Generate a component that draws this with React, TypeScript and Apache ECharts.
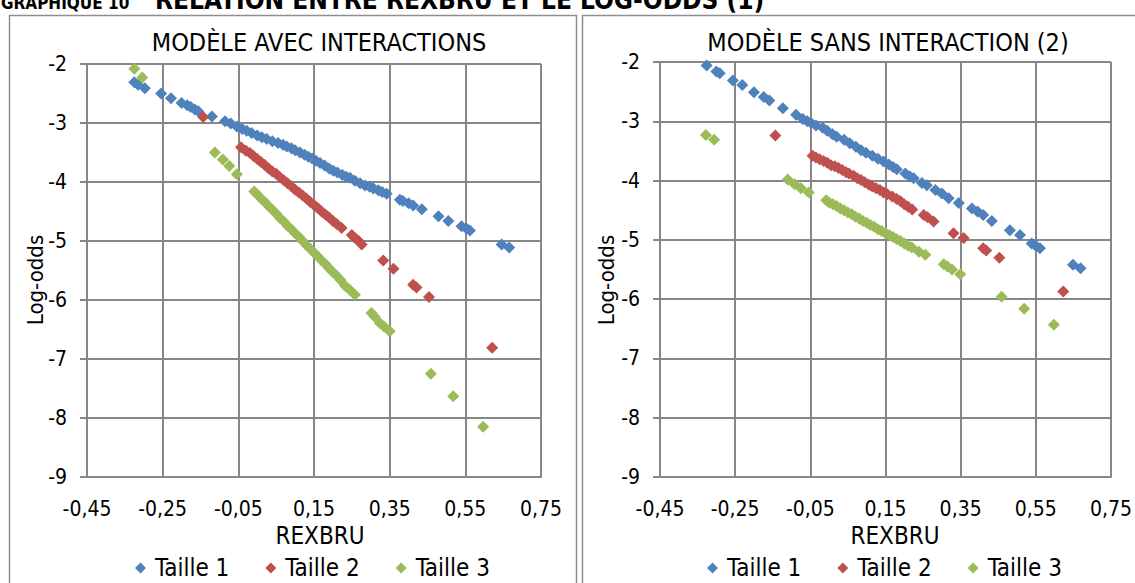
import React, { useEffect, useRef } from "react";
import * as echarts from "echarts";

const FONT = '"Liberation Sans Narrow", "Arial Narrow", "DejaVu Sans Condensed", sans-serif';

const SERIES_NAMES = ["Taille 1", "Taille 2", "Taille 3"];
const COLORS = ["#4F81BD", "#C0504D", "#9BBB59"];

const PANEL_TITLES = ["MODÈLE AVEC INTERACTIONS", "MODÈLE SANS INTERACTION (2)"];
const MAIN_TITLE_NUM = "GRAPHIQUE 10";
const MAIN_TITLE_TEXT = "RELATION ENTRE REXBRU ET LE LOG-ODDS (1)";
const X_NAME = "REXBRU";
const Y_NAME = "Log-odds";

// Modèle avec interactions : [REXBRU, log-odds]
const avecTaille1: [number, number][] = [
  [-0.325, -2.31], [-0.315, -2.35], [-0.297, -2.41], [-0.254, -2.5], [-0.228, -2.58],
  [-0.2, -2.66], [-0.185, -2.7], [-0.176, -2.73], [-0.165, -2.77], [-0.156, -2.8],
  [-0.12, -2.89], [-0.085, -2.97], [-0.07, -3.01], [-0.054, -3.06], [-0.04, -3.1],
  [-0.028, -3.13], [-0.015, -3.17], [0.0, -3.21], [0.012, -3.24], [0.025, -3.27],
  [0.04, -3.31], [0.055, -3.34], [0.068, -3.37], [0.078, -3.4], [0.09, -3.43],
  [0.1, -3.46], [0.113, -3.5], [0.125, -3.54], [0.135, -3.57], [0.145, -3.6],
  [0.155, -3.64], [0.166, -3.68], [0.178, -3.72], [0.19, -3.77], [0.201, -3.81],
  [0.212, -3.84], [0.225, -3.88], [0.235, -3.91], [0.245, -3.93], [0.258, -3.98],
  [0.272, -4.02], [0.285, -4.06], [0.297, -4.08], [0.307, -4.11], [0.32, -4.14],
  [0.33, -4.17], [0.342, -4.2], [0.377, -4.3], [0.385, -4.32], [0.4, -4.36],
  [0.412, -4.4], [0.435, -4.46], [0.479, -4.58], [0.505, -4.66], [0.54, -4.75],
  [0.553, -4.79], [0.562, -4.82], [0.646, -5.06], [0.666, -5.11],
];
const avecTaille2: [number, number][] = [
  [-0.143, -2.9], [-0.043, -3.41], [-0.03, -3.47], [-0.019, -3.51], [-0.01, -3.56],
  [0.0, -3.61], [0.01, -3.66], [0.02, -3.71], [0.03, -3.77], [0.04, -3.82],
  [0.05, -3.86], [0.06, -3.92], [0.07, -3.97], [0.08, -4.02], [0.09, -4.07],
  [0.1, -4.13], [0.11, -4.18], [0.12, -4.23], [0.13, -4.28], [0.14, -4.34],
  [0.15, -4.39], [0.16, -4.44], [0.17, -4.5], [0.18, -4.55], [0.19, -4.6],
  [0.2, -4.66], [0.21, -4.71], [0.223, -4.78], [0.25, -4.9], [0.258, -4.95],
  [0.268, -5.0], [0.276, -5.06], [0.333, -5.33], [0.36, -5.47], [0.412, -5.74],
  [0.421, -5.79], [0.454, -5.95], [0.621, -6.81],
];
const avecTaille3: [number, number][] = [
  [-0.325, -2.08], [-0.304, -2.23], [-0.112, -3.5], [-0.091, -3.62], [-0.074, -3.73],
  [-0.054, -3.87], [-0.008, -4.16], [0.0, -4.21], [0.01, -4.28], [0.02, -4.34],
  [0.03, -4.41], [0.04, -4.47], [0.05, -4.54], [0.06, -4.61], [0.07, -4.67],
  [0.08, -4.74], [0.09, -4.8], [0.1, -4.87], [0.11, -4.93], [0.12, -5.0],
  [0.13, -5.07], [0.14, -5.13], [0.15, -5.2], [0.16, -5.26], [0.17, -5.33],
  [0.18, -5.39], [0.19, -5.46], [0.2, -5.53], [0.21, -5.59], [0.22, -5.66],
  [0.232, -5.76], [0.245, -5.83], [0.258, -5.91], [0.302, -6.22], [0.31, -6.28],
  [0.324, -6.39], [0.335, -6.45], [0.35, -6.53], [0.459, -7.25], [0.518, -7.63],
  [0.597, -8.15],
];

// Modèle sans interaction
const sansTaille1: [number, number][] = [
  [-0.326, -2.06], [-0.3, -2.16], [-0.291, -2.19], [-0.256, -2.31], [-0.231, -2.39],
  [-0.2, -2.51], [-0.174, -2.59], [-0.159, -2.65], [-0.123, -2.78], [-0.088, -2.89],
  [-0.07, -2.96], [-0.058, -3.0], [-0.048, -3.03], [-0.035, -3.07], [-0.017, -3.11],
  [-0.005, -3.16], [0.009, -3.22], [0.02, -3.26], [0.04, -3.31], [0.055, -3.37],
  [0.071, -3.43], [0.085, -3.49], [0.098, -3.53], [0.115, -3.58], [0.13, -3.63],
  [0.145, -3.68], [0.159, -3.73], [0.17, -3.77], [0.18, -3.81], [0.203, -3.88],
  [0.215, -3.93], [0.225, -3.96], [0.247, -4.04], [0.26, -4.08], [0.283, -4.16],
  [0.3, -4.22], [0.318, -4.3], [0.345, -4.38], [0.38, -4.47], [0.395, -4.52],
  [0.41, -4.58], [0.433, -4.68], [0.481, -4.84], [0.508, -4.92], [0.539, -5.06],
  [0.55, -5.1], [0.561, -5.14], [0.649, -5.42], [0.669, -5.48],
];
const sansTaille2: [number, number][] = [
  [-0.143, -3.24], [-0.044, -3.58], [-0.035, -3.61], [-0.025, -3.64], [-0.015, -3.67],
  [-0.005, -3.7], [0.005, -3.74], [0.015, -3.76], [0.025, -3.79], [0.035, -3.82],
  [0.045, -3.86], [0.053, -3.88], [0.065, -3.92], [0.075, -3.96], [0.085, -3.99],
  [0.095, -4.03], [0.106, -4.07], [0.115, -4.1], [0.125, -4.13], [0.135, -4.16],
  [0.145, -4.2], [0.155, -4.23], [0.168, -4.27], [0.18, -4.31], [0.19, -4.35],
  [0.2, -4.4], [0.21, -4.44], [0.221, -4.49], [0.252, -4.58], [0.262, -4.62],
  [0.278, -4.69], [0.331, -4.89], [0.358, -4.97], [0.41, -5.14], [0.418, -5.18],
  [0.453, -5.3], [0.623, -5.87],
];
const sansTaille3: [number, number][] = [
  [-0.328, -3.23], [-0.306, -3.31], [-0.11, -3.98], [-0.092, -4.06], [-0.075, -4.13],
  [-0.054, -4.2], [-0.008, -4.33], [0.0, -4.37], [0.01, -4.4], [0.02, -4.43],
  [0.03, -4.47], [0.04, -4.5], [0.05, -4.54], [0.06, -4.57], [0.07, -4.61],
  [0.08, -4.64], [0.09, -4.68], [0.1, -4.71], [0.11, -4.75], [0.12, -4.78],
  [0.13, -4.82], [0.14, -4.85], [0.15, -4.89], [0.16, -4.92], [0.17, -4.95],
  [0.18, -4.99], [0.19, -5.02], [0.2, -5.06], [0.21, -5.1], [0.22, -5.13],
  [0.239, -5.2], [0.256, -5.25], [0.305, -5.41], [0.315, -5.45], [0.327, -5.5],
  [0.349, -5.58], [0.459, -5.96], [0.519, -6.16], [0.598, -6.43],
];

const PANELS = [
  [avecTaille1, avecTaille2, avecTaille3],
  [sansTaille1, sansTaille2, sansTaille3],
];

const X_MIN = -0.45;
const X_MAX = 0.75;
const X_STEP = 0.2;
const Y_MIN = -9;
const Y_MAX = -2;
const Y_STEP = 1;

const GRID_COLOR = "#878787";
const FRAME_COLOR = "#8e8e8e";

const fmtX = (v: number) => v.toFixed(2).replace(".", ",");

export default function App() {
  const ref = useRef<HTMLDivElement>(null);

  useEffect(() => {
    if (!ref.current) return;
    const chart = echarts.init(ref.current, undefined, { renderer: "svg" });

    const grids = [
      { left: 87, top: 64, width: 454, height: 413 },
      { left: 660, top: 62, width: 453, height: 415 },
    ];

    const xAxes = grids.map((_, i) => ({
      type: "value",
      gridIndex: i,
      min: X_MIN,
      max: X_MAX,
      interval: X_STEP,
      axisLine: { show: true, onZero: false, lineStyle: { color: GRID_COLOR, width: 2 } },
      axisTick: { show: false },
      splitLine: { show: true, lineStyle: { color: GRID_COLOR, width: 2 } },
      axisLabel: {
        formatter: (v: number) => fmtX(v),
        fontFamily: FONT,
        fontSize: 21,
        color: "#000",
        margin: 21,
        showMinLabel: true,
        showMaxLabel: true,
      },
    }));

    const yAxes = grids.map((_, i) => ({
      type: "value",
      gridIndex: i,
      min: Y_MIN,
      max: Y_MAX,
      interval: Y_STEP,
      axisLine: { show: true, onZero: false, lineStyle: { color: GRID_COLOR, width: 2 } },
      axisTick: { show: true, inside: false, length: 7, lineStyle: { color: GRID_COLOR, width: 2 } },
      splitLine: { show: true, lineStyle: { color: GRID_COLOR, width: 2 } },
      axisLabel: {
        formatter: (v: number) => String(v),
        fontFamily: FONT,
        fontSize: 21,
        color: "#000",
        margin: 20,
      },
    }));

    const series: any[] = [];
    PANELS.forEach((panel, p) => {
      panel.forEach((data, s) => {
        series.push({
          type: "scatter",
          name: SERIES_NAMES[s],
          xAxisIndex: p,
          yAxisIndex: p,
          symbol: "diamond",
          symbolSize: 12,
          itemStyle: { color: COLORS[s], opacity: 1 },
          data,
        });
      });
    });

    const legendLefts = [130, 702];
    const legends = legendLefts.map((left) => ({
      left,
      top: 551,
      padding: 5,
      icon: "diamond",
      itemWidth: 11,
      itemHeight: 11,
      itemGap: 36,
      data: SERIES_NAMES,
      selectedMode: false,
      textStyle: { fontFamily: FONT, fontSize: 24, color: "#000", padding: [0, 0, 0, 4] },
    }));

    const titleCenters = [319, 888];
    const xNameCenters = [320, 895];
    const yNameCenters = [35, 606];

    chart.setOption({
      animation: false,
      backgroundColor: "#fff",
      grid: grids,
      xAxis: xAxes,
      yAxis: yAxes,
      legend: legends,
      series,
      graphic: [
        {
          type: "rect",
          shape: { x: 9.5, y: 15.5, width: 567, height: 620 },
          style: { fill: "none", stroke: FRAME_COLOR, lineWidth: 1.5 },
          silent: true,
        },
        {
          type: "rect",
          shape: { x: 582.5, y: 15.5, width: 620, height: 620 },
          style: { fill: "none", stroke: FRAME_COLOR, lineWidth: 1.5 },
          silent: true,
        },
        ...PANEL_TITLES.map((t, i) => ({
          type: "text",
          x: titleCenters[i],
          y: 42,
          style: {
            text: t,
            fontFamily: FONT,
            fontSize: 25,
            fill: "#000",
            textAlign: "center",
            textVerticalAlign: "middle",
          },
          silent: true,
        })),
        ...xNameCenters.map((cx) => ({
          type: "text",
          x: cx,
          y: 536,
          style: {
            text: X_NAME,
            fontFamily: FONT,
            fontSize: 24,
            fill: "#000",
            textAlign: "center",
            textVerticalAlign: "middle",
          },
          silent: true,
        })),
        ...yNameCenters.map((cx) => ({
          type: "text",
          x: cx,
          y: 280,
          rotation: Math.PI / 2,
          style: {
            text: Y_NAME,
            fontFamily: FONT,
            fontSize: 22,
            fill: "#000",
            textAlign: "center",
            textVerticalAlign: "middle",
          },
          silent: true,
        })),
        {
          type: "text",
          x: 1,
          y: 3,
          style: {
            text: MAIN_TITLE_NUM,
            fontFamily: FONT,
            fontSize: 17,
            fontWeight: "bold",
            fill: "#000",
            textAlign: "left",
            textVerticalAlign: "middle",
          },
          silent: true,
        },
        {
          type: "text",
          x: 155,
          y: 0,
          style: {
            text: MAIN_TITLE_TEXT,
            fontFamily: FONT,
            fontSize: 26,
            fontWeight: "bold",
            fill: "#000",
            textAlign: "left",
            textVerticalAlign: "middle",
          },
          silent: true,
        },
      ],
    });

    return () => chart.dispose();
  }, []);

  return (
    <div
      ref={ref}
      style={{ position: "absolute", left: 0, top: 0, width: 1135, height: 583, overflow: "hidden" }}
    />
  );
}
